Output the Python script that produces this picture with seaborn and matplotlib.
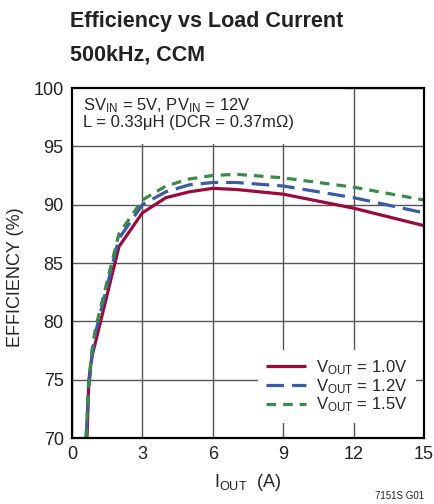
import pandas as pd
import matplotlib
matplotlib.use('Agg')
import matplotlib.pyplot as plt
from matplotlib.patches import Rectangle
import seaborn as sns

# load current (A)
iout_10 = [0.64, 0.72, 0.85, 1.0, 2, 3, 4, 5, 6, 7, 9, 12, 15]
iout_12 = [0.6, 0.7, 0.85, 1.0, 2, 3, 4, 5, 6, 7, 9, 12, 15]
iout_15 = [0.6, 0.7, 0.85, 1.0, 2, 3, 4, 5, 6, 7, 9, 12, 15]

# efficiency (%)
eff_10 = [70, 75, 77, 78.2, 86.4, 89.3, 90.6, 91.1, 91.4, 91.3, 90.9, 89.7, 88.2]
eff_12 = [70, 74, 77, 79.0, 87.1, 90.0, 91.1, 91.7, 91.9, 91.9, 91.6, 90.6, 89.3]
eff_15 = [70, 74.5, 77.5, 79.4, 87.5, 90.4, 91.6, 92.2, 92.5, 92.6, 92.3, 91.5, 90.4]

labels = ['V$_{OUT}$ = 1.0V', 'V$_{OUT}$ = 1.2V', 'V$_{OUT}$ = 1.5V']
colors = ['#9b0a3a', '#3b5aa8', '#3a8a4a']

df = pd.concat([
    pd.DataFrame({'iout': iout_10, 'eff': eff_10, 'vout': labels[0]}),
    pd.DataFrame({'iout': iout_12, 'eff': eff_12, 'vout': labels[1]}),
    pd.DataFrame({'iout': iout_15, 'eff': eff_15, 'vout': labels[2]}),
])

sns.set_style('white')
plt.rcParams['font.family'] = ['Liberation Sans', 'DejaVu Sans']
plt.rcParams['mathtext.fontset'] = 'custom'
plt.rcParams['mathtext.rm'] = 'Liberation Sans'
plt.rcParams['mathtext.it'] = 'Liberation Sans'
plt.rcParams['mathtext.default'] = 'regular'

fig = plt.figure(figsize=(4.34, 5.04), dpi=100)
ax = fig.add_axes([72 / 434, 66 / 504, 352 / 434, 350 / 504])

sns.lineplot(data=df, x='iout', y='eff', hue='vout', style='vout',
             palette=colors, dashes=[(1, 0), (5.5, 2.5), (3, 2.2)],
             linewidth=2.3, sort=False, estimator=None, ax=ax)

ax.set_xlim(0, 15)
ax.set_ylim(70, 100)
ax.set_xticks([0, 3, 6, 9, 12, 15])
ax.set_yticks([70, 75, 80, 85, 90, 95, 100])
ax.set_axisbelow(True)
ax.grid(True, color='#555555', linewidth=1.0)
ax.tick_params(direction='in', length=4, width=1, labelsize=13, colors='#222222', pad=6)
for s in ax.spines.values():
    s.set_color('black')
    s.set_linewidth(1.6)

ax.set_xlabel('I$_{OUT}$  (A)', fontsize=13, labelpad=6)
ax.set_ylabel('EFFICIENCY (%)', fontsize=13)
ax.yaxis.set_label_coords(-0.135, 0.46)

# white area behind the conditions text hides the grid
ax.add_patch(Rectangle((0, 0.84), 0.775, 0.16, transform=ax.transAxes,
                       facecolor='white', edgecolor='none', zorder=1))
ax.text(0.03, 0.975, 'SV$_{IN}$ = 5V, PV$_{IN}$ = 12V\nL = 0.33μH (DCR = 0.37mΩ)',
        transform=ax.transAxes, ha='left', va='top', fontsize=12, linespacing=1.0,
        zorder=5)

leg = ax.legend(loc='lower right', frameon=True, fontsize=12, handlelength=2.4,
                labelspacing=0.0, borderpad=0.5, handletextpad=0.6,
                bbox_to_anchor=(1.0, 0.02))
leg.get_frame().set_edgecolor('none')
leg.get_frame().set_facecolor('white')
leg.get_frame().set_alpha(1)

fig.text(70 / 434, 1 - 22 / 504, 'Efficiency vs Load Current', fontsize=15.5,
         fontweight='bold', ha='left', va='center', color='#222222')
fig.text(70 / 434, 1 - 55 / 504, '500kHz, CCM', fontsize=15.5,
         fontweight='bold', ha='left', va='center', color='#222222')
fig.text(424 / 434, 1 - 496 / 504, '7151S G01', fontsize=7, ha='right',
         va='center', color='#222222')

fig.savefig('out.png', dpi=100)
